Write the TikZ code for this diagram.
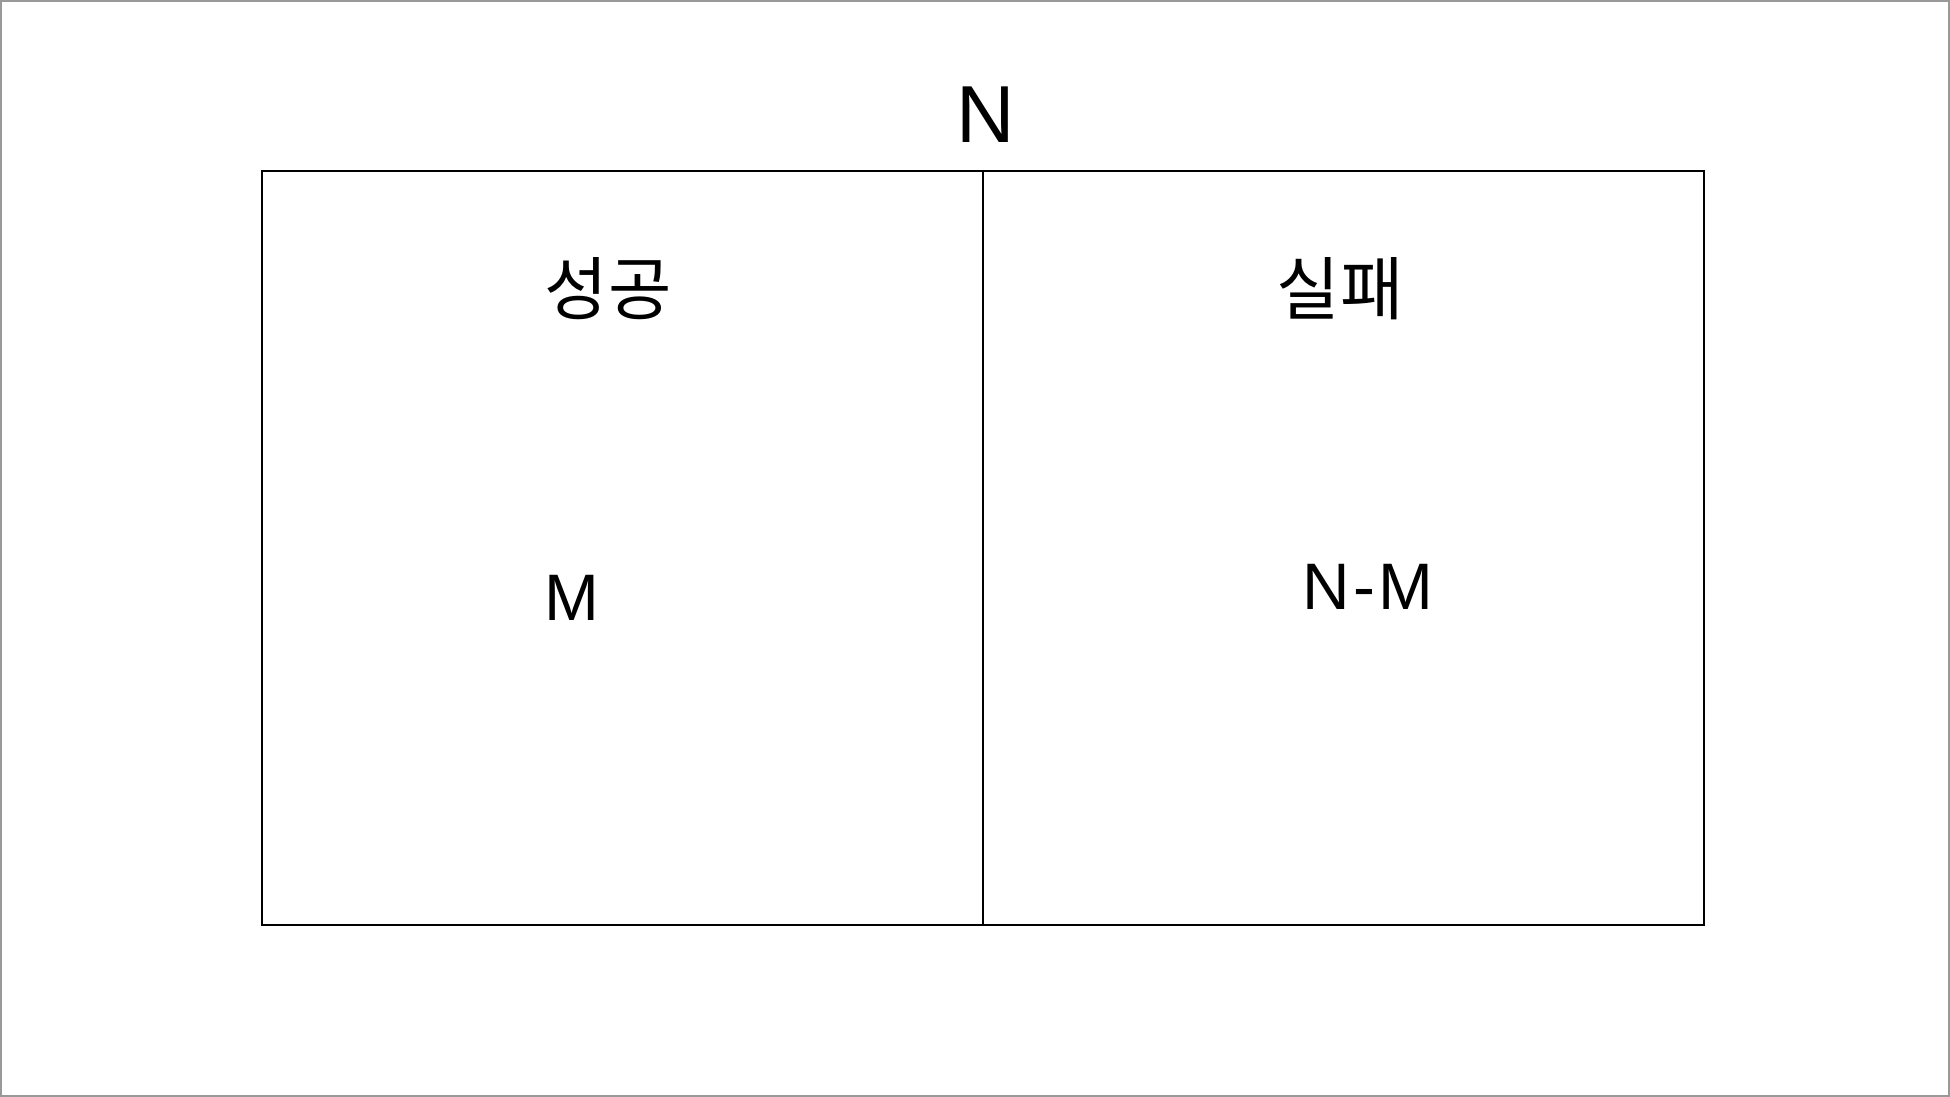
\documentclass[tikz,border=0pt]{standalone}
\usepackage{fontspec}
\setmainfont{Liberation Sans}
\newfontfamily\kr{Noto Sans CJK KR}
\begin{document}
\begin{tikzpicture}[x=0.01cm,y=-0.01cm,
  lab/.style={inner sep=0pt,anchor=base},
  big/.style={lab,font=\fontsize{23}{26}\selectfont},
  mid/.style={lab,font=\fontsize{18.7}{22}\selectfont},
  kor/.style={lab,font=\kr\fontsize{19.6}{22}\selectfont}]
\useasboundingbox (0,0) rectangle (1950,1097);
\draw[gray!80,line width=0.45pt] (0.8,0.8) rectangle (1949.2,1096.2);
\coordinate (tl) at (262,171);
\coordinate (br) at (1704,925);
\coordinate (mt) at (983,171);
\coordinate (mb) at (983,925);
\draw[line width=0.6pt] (tl) rectangle (br);
\draw[line width=0.35pt] (mt) -- (mb);
\node[big] (n) at (986,143) {N};
\node[kor] (s) at (608,315) {성공};
\node[kor] (f) at (1340,315) {실패};
\node[mid] (m) at (572,620) {M};
\node[mid] (nm) at (1368,610) {N\kern1pt-\kern1pt M};
\end{tikzpicture}
\end{document}
